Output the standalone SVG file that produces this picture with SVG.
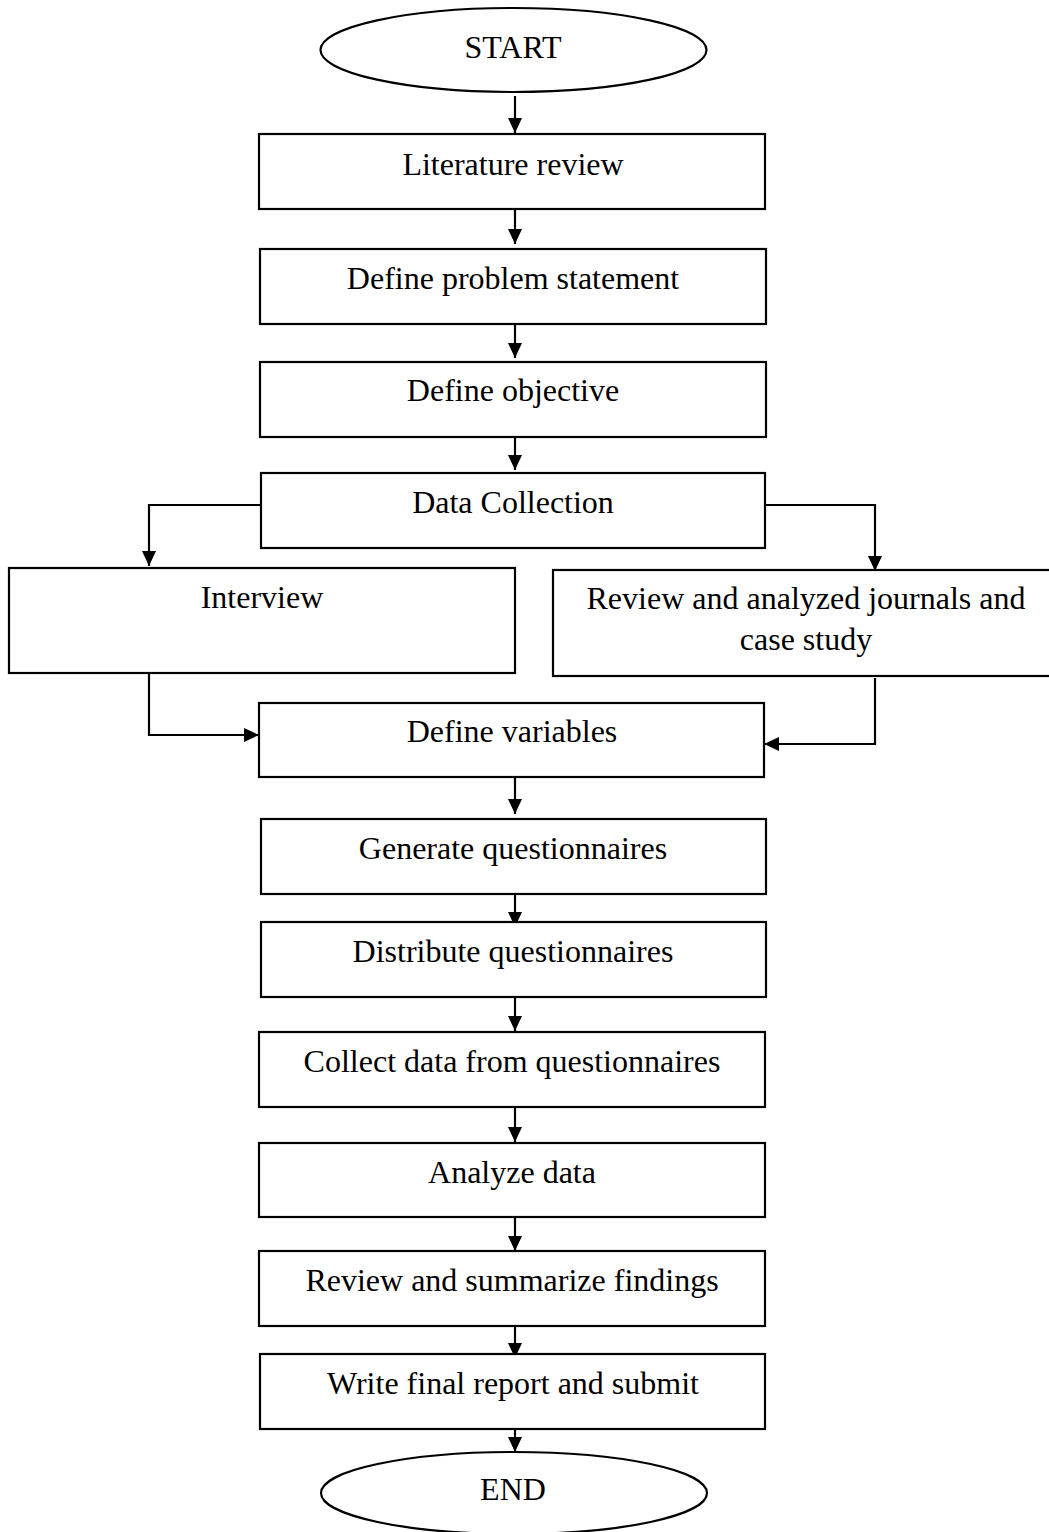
<svg xmlns="http://www.w3.org/2000/svg" width="1049" height="1532" viewBox="0 0 1049 1532">
<style>
.box{fill:#fff;stroke:#000;stroke-width:2.2}
.t{font-family:"Liberation Serif","Times New Roman",serif;font-size:32px;fill:#000;text-anchor:middle}
.c{fill:none;stroke:#000;stroke-width:2.2}
</style>
<defs>
<marker id="ah" markerUnits="userSpaceOnUse" markerWidth="16" markerHeight="16" viewBox="0 0 16 16" refX="15" refY="8" orient="auto">
<path d="M0,1 L15,8 L0,15 Z" fill="#000"/>
</marker>
</defs>
<rect width="1049" height="1532" fill="#fff"/>
<g id="connectors">
<line class="c" x1="515" y1="96" x2="515" y2="133" marker-end="url(#ah)"/>
<line class="c" x1="515" y1="210" x2="515" y2="244" marker-end="url(#ah)"/>
<line class="c" x1="515" y1="324" x2="515" y2="358" marker-end="url(#ah)"/>
<line class="c" x1="515" y1="437" x2="515" y2="470" marker-end="url(#ah)"/>
<polyline class="c" points="261,505 149,505 149,566" marker-end="url(#ah)"/>
<polyline class="c" points="765,505 875,505 875,571" marker-end="url(#ah)"/>
<polyline class="c" points="149,674 149,735 259,735" marker-end="url(#ah)"/>
<polyline class="c" points="875,678 875,744 764,744" marker-end="url(#ah)"/>
<line class="c" x1="515" y1="777" x2="515" y2="814" marker-end="url(#ah)"/>
<line class="c" x1="515" y1="894" x2="515" y2="927" marker-end="url(#ah)"/>
<line class="c" x1="515" y1="997" x2="515" y2="1031" marker-end="url(#ah)"/>
<line class="c" x1="515" y1="1107" x2="515" y2="1142" marker-end="url(#ah)"/>
<line class="c" x1="515" y1="1217" x2="515" y2="1251" marker-end="url(#ah)"/>
<line class="c" x1="515" y1="1326" x2="515" y2="1358" marker-end="url(#ah)"/>
<line class="c" x1="515" y1="1429" x2="515" y2="1452" marker-end="url(#ah)"/>
</g>
<g id="start">
<ellipse class="box" cx="513.5" cy="50" rx="193" ry="42"/>
<text class="t" x="513" y="58">START</text>
</g>
<g id="literature">
<rect class="box" x="259" y="134" width="506" height="75"/>
<text class="t" x="513" y="175">Literature review</text>
</g>
<g id="problem">
<rect class="box" x="260" y="249" width="506" height="75"/>
<text class="t" x="513" y="289">Define problem statement</text>
</g>
<g id="objective">
<rect class="box" x="260" y="362" width="506" height="75"/>
<text class="t" x="513" y="401">Define objective</text>
</g>
<g id="datacollection">
<rect class="box" x="261" y="473" width="504" height="75"/>
<text class="t" x="513" y="513">Data Collection</text>
</g>
<g id="interview">
<rect class="box" x="9" y="568" width="506" height="105"/>
<text class="t" x="262" y="608">Interview</text>
</g>
<g id="reviewjournals">
<rect class="box" x="553" y="570" width="510" height="106"/>
<text class="t" x="806" y="609">Review and analyzed journals and</text>
<text class="t" x="806" y="650">case study</text>
</g>
<g id="variables">
<rect class="box" x="259" y="703" width="505" height="74"/>
<text class="t" x="512" y="742">Define variables</text>
</g>
<g id="generate">
<rect class="box" x="261" y="819" width="505" height="75"/>
<text class="t" x="513" y="859">Generate questionnaires</text>
</g>
<g id="distribute">
<rect class="box" x="261" y="922" width="505" height="75"/>
<text class="t" x="513" y="962">Distribute questionnaires</text>
</g>
<g id="collect">
<rect class="box" x="259" y="1032" width="506" height="75"/>
<text class="t" x="512" y="1072">Collect data from questionnaires</text>
</g>
<g id="analyze">
<rect class="box" x="259" y="1143" width="506" height="74"/>
<text class="t" x="512" y="1183">Analyze data</text>
</g>
<g id="summarize">
<rect class="box" x="259" y="1251" width="506" height="75"/>
<text class="t" x="512" y="1291">Review and summarize findings</text>
</g>
<g id="write">
<rect class="box" x="260" y="1354" width="505" height="75"/>
<text class="t" x="513" y="1394">Write final report and submit</text>
</g>
<g id="end">
<ellipse class="box" cx="514" cy="1493" rx="193" ry="41"/>
<text class="t" x="513" y="1500">END</text>
</g>
</svg>
